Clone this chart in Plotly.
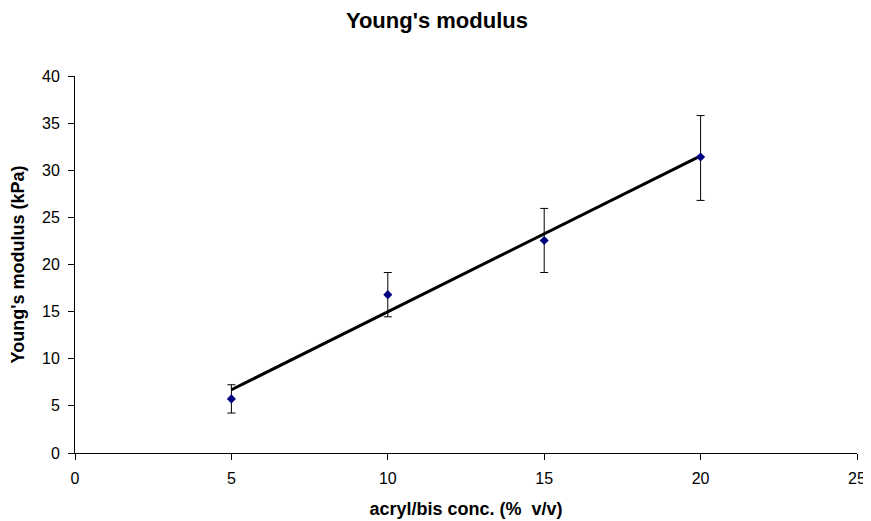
import numpy as np
import plotly.graph_objects as go

conc = [5, 10, 15, 20]
modulus = [5.74, 16.8, 22.55, 31.4]
err_plus = [1.5, 2.35, 3.4, 4.4]
err_minus = [1.5, 2.35, 3.4, 4.6]
x_ticks = [0, 5, 10, 15, 20, 25]
y_ticks = [0, 5, 10, 15, 20, 25, 30, 35, 40]

slope, intercept = np.polyfit(conc, modulus, 1)
trend_x = [min(conc), max(conc)]
trend_y = [slope * x + intercept for x in trend_x]

fig = go.Figure()
fig.add_trace(go.Scatter(
    x=trend_x, y=trend_y, mode="lines",
    line=dict(color="black", width=3), hoverinfo="skip", showlegend=False))
fig.add_trace(go.Scatter(
    x=conc, y=modulus, mode="markers",
    marker=dict(symbol="diamond", size=7, color="#000080"),
    error_y=dict(type="data", symmetric=False, array=err_plus, arrayminus=err_minus,
                 color="black", thickness=1, width=4),
    showlegend=False))

font_family = "Liberation Sans, Arial, sans-serif"
fig.update_layout(
    width=863, height=513,
    margin=dict(l=67, r=14, t=68, b=68, autoexpand=False),
    paper_bgcolor="white", plot_bgcolor="white",
    font=dict(family=font_family, size=16, color="black"),
    title=dict(text="<b>Young's modulus</b>", x=0.497, xref="container", xanchor="center",
               y=0.9766, yref="container", yanchor="middle", font=dict(size=22)),
    xaxis=dict(range=[0, 25], tickvals=x_ticks, showgrid=False,
               zeroline=False, showline=True, linecolor="black", linewidth=1,
               ticks="outside", ticklen=6, tickcolor="black", ticklabelstandoff=5,
               tickfont=dict(size=16), automargin=False,
               title=dict(text="<b>acryl/bis conc. (%  v/v)</b>", standoff=16,
                          font=dict(size=18))),
    yaxis=dict(range=[0, 40], tickvals=y_ticks, showgrid=False,
               zeroline=False, showline=True, linecolor="black", linewidth=1,
               ticks="outside", ticklen=6, tickcolor="black", ticklabelstandoff=5,
               tickfont=dict(size=16), automargin=False,
               title=dict(text="<b>Young's modulus (kPa)</b>", standoff=16,
                          font=dict(size=18))),
)
fig.write_html("out.html")
